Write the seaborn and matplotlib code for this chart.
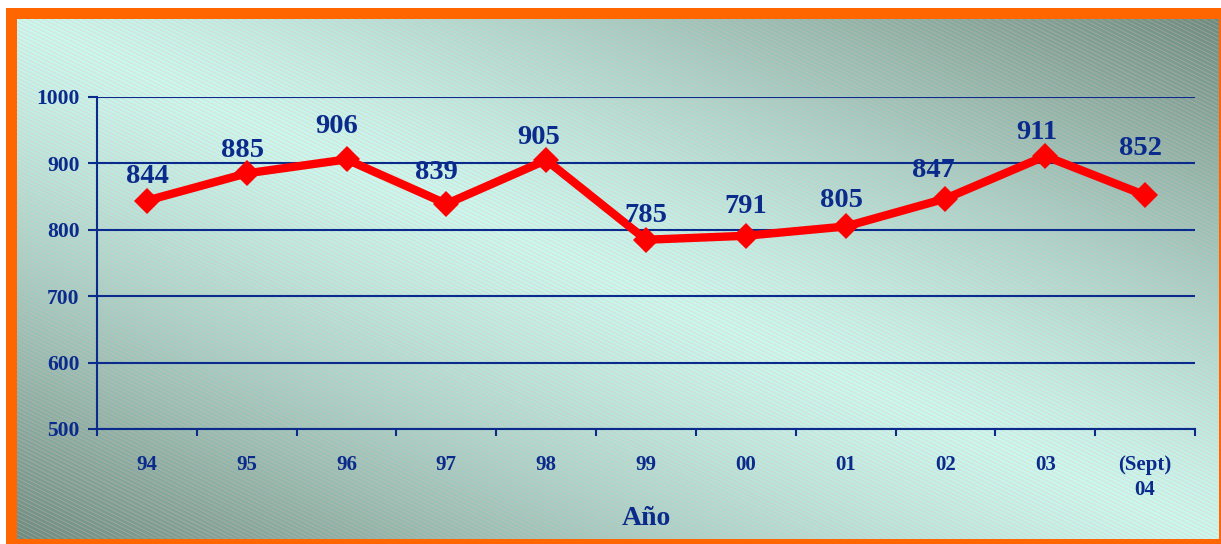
import numpy as np
import pandas as pd
import matplotlib
matplotlib.use("Agg")
import matplotlib.pyplot as plt
from matplotlib.patches import Rectangle
from matplotlib.collections import LineCollection
import seaborn as sns

# Data
years = ["94", "95", "96", "97", "98", "99", "00", "01", "02", "03", "(Sept)\n04"]
values = [844, 885, 906, 839, 905, 785, 791, 805, 847, 911, 852]
y_ticks = [500, 600, 700, 800, 900, 1000]
# label nudges in pixels (dx, dy to baseline)
label_offsets = [(1, 18), (-4, 16), (-10, 26), (-10, 25), (-8, 16), (0, 18),
                 (0, 23), (-4, 19), (-12, 22), (-8, 17), (-5, 40)]

NAVY = "#0a2a8c"
W, H = 1221, 544

sns.set_theme(style="white")
plt.rcParams["font.family"] = ["Liberation Serif", "DejaVu Serif"]
plt.rcParams["font.weight"] = "bold"

fig = plt.figure(figsize=(W / 100, H / 100), dpi=100, facecolor="white")

# ---- background panel: orange frame, diagonal gradient, fine stripes ----
bg = fig.add_axes([0, 0, 1, 1], zorder=0)
bg.axis("off")
bg.add_patch(Rectangle((6, 8), W + 20, H + 20, facecolor="#ff6600", edgecolor="none"))

x0, x1, y0, y1 = 17, 1219, 19, 539
gx = np.linspace(0, 1, 600)
gy = np.linspace(0, 1, 300)
GX, GY = np.meshgrid(gx, gy)
u = np.abs(GX - GY) ** 1.3  # light along the main diagonal, dark toward the other corners
light = np.array([0.79, 0.97, 0.95])
dark = np.array([0.42, 0.55, 0.52])
img = light[None, None, :] * (1 - u[..., None]) + dark[None, None, :] * u[..., None]
bg.imshow(img, extent=(x0, x1, y1, y0), aspect="auto", interpolation="bilinear", zorder=1)

# shallow diagonal stripes across the panel
slope, step = 0.5, 4.0
offsets = np.arange(y0 - slope * (x1 - x0) - step, y1 + step, step)
segs = [[(x0, c), (x1, c + slope * (x1 - x0))] for c in offsets]
stripes = LineCollection(segs, colors=[(0.97, 0.72, 0.55, 0.35)], linewidths=0.7, zorder=2)
clip = Rectangle((x0, y0), x1 - x0, y1 - y0, transform=bg.transData, fill=False)
bg.add_collection(stripes)
stripes.set_clip_path(clip)
bg.set_xlim(0, W)
bg.set_ylim(H, 0)

# ---- main chart ----
ax = fig.add_axes([97 / W, 1 - 429 / H, (1195 - 97) / W, (429 - 97) / H], zorder=1)
ax.patch.set_alpha(0)

df = pd.DataFrame({"pos": np.arange(len(years)), "valor": values})
sns.lineplot(data=df, x="pos", y="valor", ax=ax, color="#ff0000", linewidth=6,
             marker="D", markersize=13.5, markeredgewidth=0, zorder=3)

for i, (v, (dx, dy)) in enumerate(zip(values, label_offsets)):
    ax.annotate(str(v), (i, v), xytext=(dx, dy), textcoords="offset pixels",
                ha="center", va="baseline", fontsize=20.5, fontweight="bold",
                color=NAVY, zorder=4)

ax.set_xlim(-0.5, len(years) - 0.5)
ax.set_ylim(500, 1000)
ax.set_yticks(y_ticks)
ax.set_yticklabels([str(t) for t in y_ticks])
ax.set_xticks(np.arange(-0.5, len(years)), labels=[""] * (len(years) + 1))
ax.set_xticks(np.arange(len(years)), labels=years, minor=True)

ax.tick_params(axis="y", which="major", direction="out", length=6.5, width=1.5,
               color=NAVY, labelcolor=NAVY, labelsize=15.5, pad=6, left=True)
ax.tick_params(axis="x", which="major", direction="out", length=5, width=1.5,
               color=NAVY, bottom=True)
ax.tick_params(axis="x", which="minor", length=0, pad=19, labelsize=15,
               labelcolor=NAVY)
for lab in ax.get_xticklabels(minor=True):
    lab.set_fontweight("bold")
    lab.set_linespacing(1.3)
for lab in ax.get_yticklabels():
    lab.set_fontweight("bold")

ax.yaxis.grid(True, color=NAVY, linewidth=1.5)
ax.xaxis.grid(False)
ax.set_axisbelow(True)
for side in ["top", "right"]:
    ax.spines[side].set_visible(False)
for side in ["left", "bottom"]:
    ax.spines[side].set_color(NAVY)
    ax.spines[side].set_linewidth(1.5)

ax.set_ylabel("")
ax.set_xlabel("Año", fontsize=20, fontweight="bold", color=NAVY)
ax.xaxis.label.set_va("baseline")
ax.xaxis.set_label_coords(0.5, -(525 - 429) / (429 - 97))

fig.savefig("out.png", dpi=100, facecolor="white")
